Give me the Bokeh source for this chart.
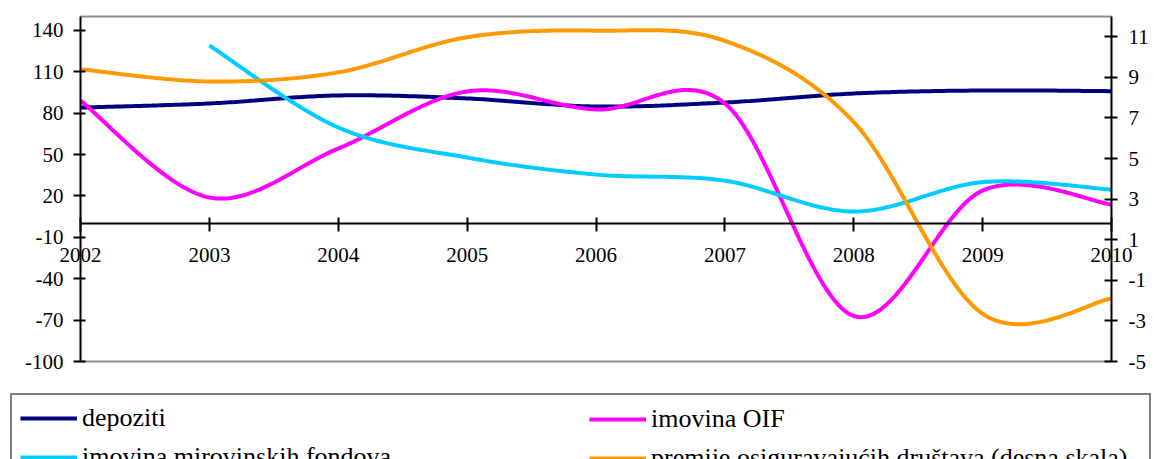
from bokeh.plotting import figure
from bokeh.models import (Range1d, LinearAxis, FixedTicker, Legend, LegendItem,
                          NumeralTickFormatter)
from bokeh.embed import file_html
from bokeh.resources import INLINE

# ---------------- data ----------------
years = [2002, 2003, 2004, 2005, 2006, 2007, 2008, 2009, 2010]
depoziti = [84, 87, 92.8, 90.6, 84.8, 87.7, 94.2, 96.4, 95.9]
imovina_oif = [89, 18.8, 54.3, 95.7, 82.6, 87, -67, 23.9, 13.8]
mirovinski_years = [2003, 2004, 2005, 2006, 2007, 2008, 2009, 2010]
mirovinski = [129, 69.6, 47.8, 35.5, 31, 8.7, 30, 24.6]
premije = [9.4, 8.8, 9.25, 10.98, 11.3, 10.8, 6.8, -2.65, -1.9]   # right scale

left_ticks = [-100, -70, -40, -10, 20, 50, 80, 110, 140]
right_ticks = [-5, -3, -1, 1, 3, 5, 7, 9, 11]
LEFT_MIN, LEFT_MAX = -100, 150
RIGHT_MIN, RIGHT_MAX = -5, 12

labels = ["depoziti", "imovina OIF", "imovina mirovinskih fondova",
          "premije osiguravajućih društava (desna skala)"]
colors = ["#000080", "#FF00FF", "#00CCFF", "#FF9900"]


def smooth(xs, ys, n=40):
    """Catmull-Rom (Excel-style) smoothing for drawing."""
    pts = list(zip(xs, ys))
    ox, oy = [], []
    m = len(pts)
    for i in range(m - 1):
        p0 = pts[i - 1] if i > 0 else pts[i]
        p1 = pts[i]
        p2 = pts[i + 1]
        p3 = pts[i + 2] if i + 2 < m else pts[i + 1]
        c1 = (p1[0] + (p2[0] - p0[0]) / 6, p1[1] + (p2[1] - p0[1]) / 6)
        c2 = (p2[0] - (p3[0] - p1[0]) / 6, p2[1] - (p3[1] - p1[1]) / 6)
        for k in range(n + (1 if i == m - 2 else 0)):
            t = k / n
            a = (1 - t) ** 3
            b = 3 * (1 - t) ** 2 * t
            c = 3 * (1 - t) * t ** 2
            d = t ** 3
            ox.append(a * p1[0] + b * c1[0] + c * c2[0] + d * p2[0])
            oy.append(a * p1[1] + b * c1[1] + c * c2[1] + d * p2[1])
    return ox, oy


FONT = "Liberation Serif"
W, H = 1154, 459
# plot area in pixels
PL, PR, PT, PB = 80, 1111, 16, 361
kx = (PR - PL) / (years[-1] - years[0])
ky = (PB - PT) / (LEFT_MAX - LEFT_MIN)
kr = (PB - PT) / (RIGHT_MAX - RIGHT_MIN)

x_range = Range1d(years[0] - PL / kx, years[-1] + (W - PR) / kx)
y_range = Range1d(LEFT_MIN - (H - PB) / ky, LEFT_MAX + PT / ky)
r_range = Range1d(RIGHT_MIN - (H - PB) / kr, RIGHT_MAX + PT / kr)

p = figure(width=W, height=H, output_backend="svg", toolbar_location=None,
           x_range=x_range, y_range=y_range,
           x_axis_location=None, y_axis_location=None,
           min_border=0)
p.extra_y_ranges = {"right": r_range}
p.xgrid.visible = False
p.ygrid.visible = False
p.outline_line_color = None
p.background_fill_color = "white"
p.border_fill_color = "white"

fmt = NumeralTickFormatter(format="0")
la = LinearAxis(ticker=FixedTicker(ticks=left_ticks), fixed_location=years[0],
                bounds=(LEFT_MIN, LEFT_MAX), formatter=fmt)
ra = LinearAxis(ticker=FixedTicker(ticks=right_ticks), y_range_name="right",
                fixed_location=years[-1], bounds=(RIGHT_MIN, RIGHT_MAX),
                formatter=fmt)
xa = LinearAxis(ticker=FixedTicker(ticks=years), fixed_location=0,
                bounds=(years[0], years[-1]), formatter=fmt)

for ax in (la, ra, xa):
    ax.axis_line_color = "black"
    ax.axis_line_width = 2
    ax.major_tick_line_color = "black"
    ax.major_tick_line_width = 2
    ax.minor_tick_line_color = None
    ax.major_label_text_font = FONT
    ax.major_label_text_font_size = "21px"
    ax.major_label_text_color = "black"
la.major_tick_in = 5
la.major_tick_out = 7
la.major_label_standoff = 10
ra.major_tick_in = 7
ra.major_tick_out = 6
ra.major_label_standoff = 11
xa.major_tick_in = 6
xa.major_tick_out = 8
xa.major_label_standoff = 16

# gray frame lines (top & bottom of the plot area)
ta = LinearAxis(ticker=FixedTicker(ticks=[]), fixed_location=LEFT_MAX,
                bounds=(years[0], years[-1]))
ba = LinearAxis(ticker=FixedTicker(ticks=[]), fixed_location=LEFT_MIN,
                bounds=(years[0], years[-1]))
for ax in (ta, ba):
    ax.axis_line_color = "#8c8c8c"
    ax.axis_line_width = 2
    ax.major_tick_line_color = None
    ax.minor_tick_line_color = None
    ax.major_label_text_color = None

p.add_layout(ta, "above")
p.add_layout(ba, "below")
p.add_layout(la, "left")
p.add_layout(ra, "right")
p.add_layout(xa, "below")

x1, y1 = smooth(years, depoziti)
x2, y2 = smooth(years, imovina_oif)
x3, y3 = smooth(mirovinski_years, mirovinski)
x4, y4 = smooth(years, premije)

r1 = p.line(x1, y1, line_width=4, color=colors[0])
r2 = p.line(x2, y2, line_width=4, color=colors[1])
r3 = p.line(x3, y3, line_width=4, color=colors[2])
r4 = p.line(x4, y4, line_width=4, color=colors[3], y_range_name="right")

common = dict(label_text_font=FONT, label_text_font_size="26px",
              label_text_color="black", glyph_width=57, glyph_height=30,
              label_height=30, label_standoff=5, spacing=9, padding=8)

leg_a = Legend(items=[LegendItem(label=labels[0], renderers=[r1]),
                      LegendItem(label=labels[2], renderers=[r3])],
               location=(10, -23), label_width=1059,
               border_line_color="black", border_line_width=2,
               background_fill_color="white", background_fill_alpha=1,
               **common)
leg_b = Legend(items=[LegendItem(label=labels[1], renderers=[r2]),
                      LegendItem(label=labels[3], renderers=[r4])],
               location=(589, -14), label_width=487,
               border_line_color=None, background_fill_alpha=0,
               **common)
p.add_layout(leg_a, "center")
p.add_layout(leg_b, "center")

open("out.html", "w").write(file_html(p, INLINE))
